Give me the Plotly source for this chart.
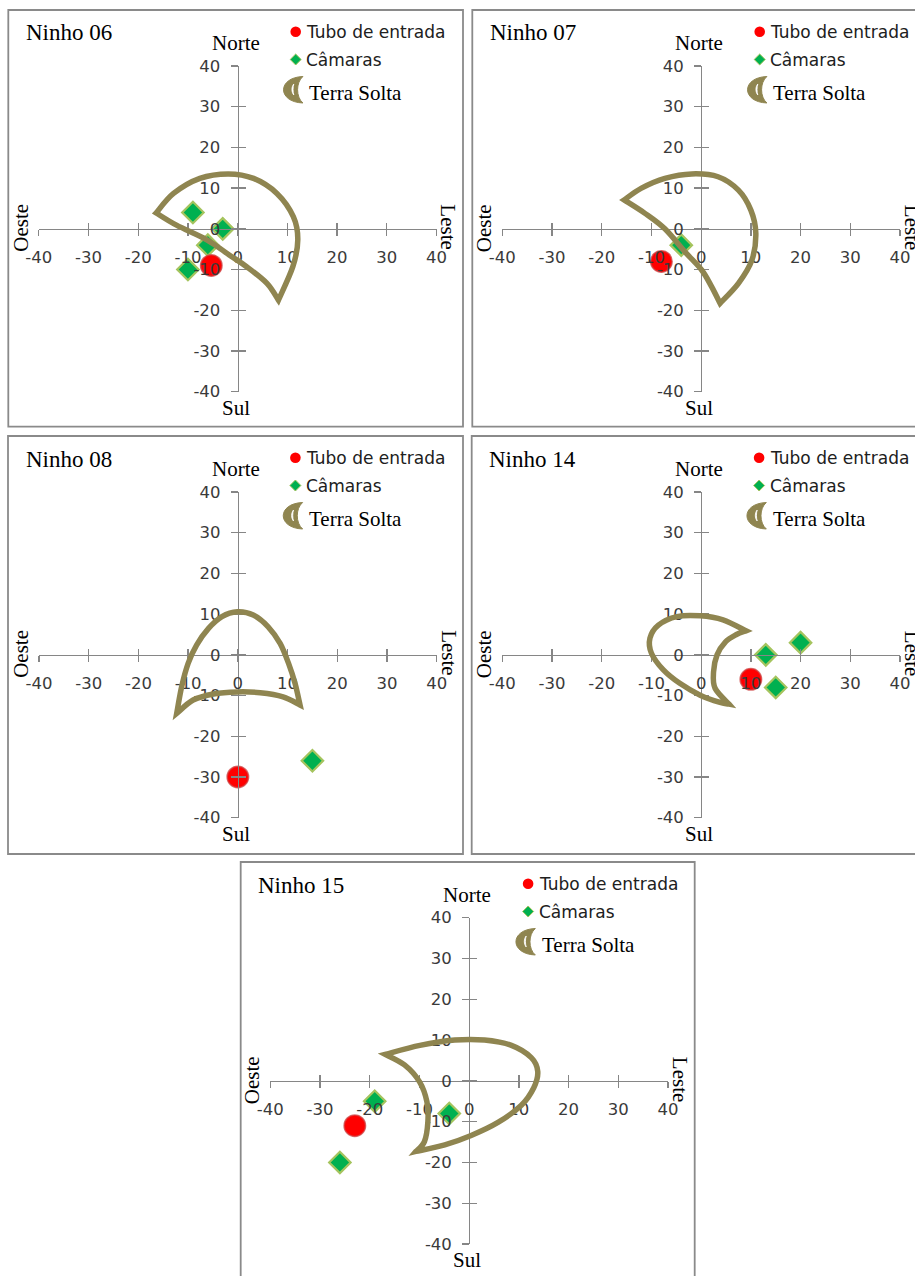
import plotly.graph_objects as go

W, H = 915, 1276

# ---------------- data ----------------
NESTS = ["Ninho 06", "Ninho 07", "Ninho 08", "Ninho 14", "Ninho 15"]

# Tubo de entrada (x: Oeste-Leste, y: Sul-Norte)
TUBE_X = [-5.3, -8, 0, 10, -23]
TUBE_Y = [-9, -8, -30, -6, -11]

# Câmaras
CAM_X = [[-9, -3, -6, -10], [-4], [15], [13, 15, 20], [-19, -4, -26]]
CAM_Y = [[4, 0, -4, -10], [-4], [-26], [0, -8, 3], [-5, -8, -20]]

# Terra Solta outline: outer arc (tip to tip) and inner arc (between the tips)
SOIL_OUTER_X = [
    [-16.4, -12.9, -7.6, -1.9, 3.2, 7.9, 11.2, 12.1, 11.1, 8.2],
    [-15.5, -12.0, -7.3, -1.9, 3.4, 7.5, 10.0, 11.0, 10.2, 7.5, 3.8],
    [-12.3, -11.3, -10.0, -8.3, -5.9, -3.2, -0.1, 3.1, 6.1, 8.5, 10.2, 11.5, 12.5],
    [9.0, 4.4, -0.2, -4.9, -8.6, -10.3, -10.0, -7.6, -4.3, -0.2, 3.8, 5.6],
    [-16.9, -9.9, -2.9, 3.1, 8.5, 12.5, 13.8, 13.0, 10.5, 5.8, 0.4, -4.9, -10.7],
]
SOIL_OUTER_Y = [
    [3.9, 8.7, 12.4, 13.5, 12.4, 8.7, 3.0, -2.7, -9.3, -17.5],
    [7.1, 10.0, 12.4, 13.5, 12.8, 9.5, 4.6, -1.1, -7.7, -13.4, -18.3],
    [-14.4, -7.8, -2.1, 2.4, 6.5, 9.4, 10.6, 9.8, 6.9, 2.8, -2.1, -7.0, -12.3],
    [5.9, 8.6, 9.6, 9.4, 7.3, 4.1, 0.4, -3.7, -7.0, -9.9, -11.7, -12.1],
    [6.5, 8.7, 10.0, 10.0, 8.7, 5.7, 2.3, -1.7, -6.0, -10.2, -13.4, -15.7, -17.3],
]
SOIL_INNER_X = [
    [5.9, 1.8, -1.7, -6.2, -12.3],
    [2.1, 0.1, -3.3, -7.3, -11.3],
    [9.1, 4.5, -0.1, -4.9, -9.0],
    [2.8, 2.5, 3.2, 4.9, 7.1],
    [-9.0, -8.3, -8.5, -10.0, -13.0],
]
SOIL_INNER_Y = [
    [-13.4, -9.3, -6.4, -2.7, 0.9],
    [-14.2, -10.1, -5.6, 0.0, 3.8],
    [-10.3, -9.3, -9.1, -9.6, -11.1],
    [-8.2, -4.1, 0.0, 3.2, 5.0],
    [-14.9, -10.0, -5.1, -0.2, 3.9],
]

TICK_VALS = [-40, -30, -20, -10, 0, 10, 20, 30, 40]
TICK_TEXT = ["-40", "-30", "-20", "-10", "0", "10", "20", "30", "40"]

LEGEND_LABELS = ["Tubo de entrada", "Câmaras", "Terra Solta"]
DIR_LABELS = ["Norte", "Sul", "Oeste", "Leste"]

# ---------------- layout geometry (pixels) ----------------
PANEL_BOX = [(8.3, 10, 463, 426.7), (472.3, 10, 930, 426.7), (8, 436, 463, 854),
             (471.7, 436, 930, 854), (240.7, 862, 694.7, 1290)]
AX_X = [(38.8, 436.5), (502.3, 900), (39, 436.7), (502.3, 900), (270.3, 668)]
AX_Y = [(66, 391.7), (66, 391.7), (492, 817.7), (492, 817.7), (917.7, 1244)]

AX_COL = "#868686"
TICK_FONT = dict(family="DejaVu Sans", size=16.5, color="#3A3A3A")
SERIF = "Liberation Serif"
SOIL_COL = "#8F8550"
RED = "#FF0000"
GREEN = "#00B050"


def PX(x):
    return x / W


def PY(y):
    return 1 - y / H


def spline_cmds(pts):
    """Catmull-Rom spline through pts -> list of cubic bezier segments."""
    n = len(pts)
    segs = []
    for i in range(n - 1):
        p0 = pts[max(i - 1, 0)]
        p1 = pts[i]
        p2 = pts[i + 1]
        p3 = pts[min(i + 2, n - 1)]
        c1 = (p1[0] + (p2[0] - p0[0]) / 6, p1[1] + (p2[1] - p0[1]) / 6)
        c2 = (p2[0] - (p3[0] - p1[0]) / 6, p2[1] - (p3[1] - p1[1]) / 6)
        segs.append("C%.3f,%.3f %.3f,%.3f %.3f,%.3f" % (c1[0], c1[1], c2[0], c2[1], p2[0], p2[1]))
    return segs


def ppath(cmds):
    """Build a paper-coordinate path from pixel commands [(cmd, [(x,y),...]), ...]."""
    out = []
    for c, pts in cmds:
        out.append(c + " ".join("%.5f,%.5f" % (PX(x), PY(y)) for x, y in pts))
    return " ".join(out) + " Z"


fig = go.Figure()
layout = dict(width=W, height=H, autosize=False,
              margin=dict(l=0, r=0, t=0, b=0, pad=0, autoexpand=False),
              paper_bgcolor="white", plot_bgcolor="rgba(0,0,0,0)", showlegend=False)
shapes = []
annotations = []

for i in range(5):
    k = i + 1
    ko = i + 6
    xa = "x" if k == 1 else "x%d" % k
    ya = "y" if k == 1 else "y%d" % k
    xo = "x%d" % ko
    yo = "y%d" % ko
    xl, xr = AX_X[i]
    yt, yb = AX_Y[i]
    x0 = (xl + xr) / 2
    y0 = (yt + yb) / 2
    bl, bt, br, bb = PANEL_BOX[i]

    common = dict(range=[-40, 40], tickmode="array", tickvals=TICK_VALS, showgrid=False,
                  zeroline=False, fixedrange=True, tickcolor=AX_COL, tickwidth=1.3,
                  automargin=False)
    layout["xaxis" if k == 1 else "xaxis%d" % k] = dict(
        common, domain=[PX(xl), PX(xr)], anchor="free", position=PY(y0),
        showline=True, linecolor=AX_COL, linewidth=1.3, ticks="outside", ticklen=6,
        ticktext=TICK_TEXT, tickfont=TICK_FONT, ticklabelstandoff=7)
    layout["yaxis" if k == 1 else "yaxis%d" % k] = dict(
        common, domain=[PY(yb), PY(yt)], anchor="free", position=PX(x0), side="left",
        showline=True, linecolor=AX_COL, linewidth=1.3, ticks="outside", ticklen=7,
        ticktext=TICK_TEXT, tickfont=TICK_FONT, ticklabelstandoff=7)
    layout["xaxis%d" % ko] = dict(
        common, overlaying=xa, anchor="free", position=PY(y0), showline=False,
        ticks="inside", ticklen=6, showticklabels=False)
    layout["yaxis%d" % ko] = dict(
        common, overlaying=ya, anchor="free", position=PX(x0), side="left", showline=False,
        ticks="inside", ticklen=7, showticklabels=False)

    # invisible trace to register overlay axes
    fig.add_trace(go.Scatter(x=[0], y=[0], xaxis=xo, yaxis=yo, mode="markers",
                             marker=dict(size=1, opacity=0), hoverinfo="skip"))

    # câmaras
    fig.add_trace(go.Scatter(
        x=CAM_X[i], y=CAM_Y[i], xaxis=xa, yaxis=ya, mode="markers", name=LEGEND_LABELS[1],
        marker=dict(symbol="diamond", size=16.5, color=GREEN,
                    line=dict(color="#A5C45E", width=2.2))))
    # tubo de entrada
    fig.add_trace(go.Scatter(
        x=[TUBE_X[i]], y=[TUBE_Y[i]], xaxis=xa, yaxis=ya, mode="markers", name=LEGEND_LABELS[0],
        marker=dict(symbol="circle", size=21.5, color=RED,
                    line=dict(color="rgba(205,70,70,0.75)", width=1.5))))

    # terra solta crescent
    outer = list(zip(SOIL_OUTER_X[i], SOIL_OUTER_Y[i]))
    inner = [outer[-1]] + list(zip(SOIL_INNER_X[i], SOIL_INNER_Y[i])) + [outer[0]]
    path = "M%.3f,%.3f " % outer[0] + " ".join(spline_cmds(outer)) + " " + \
        " ".join(spline_cmds(inner)) + " Z"
    shapes.append(dict(type="path", xref=xa, yref=ya, path=path, layer="above",
                       line=dict(color=SOIL_COL, width=5.5), fillcolor="rgba(0,0,0,0)"))

    # panel border
    shapes.append(dict(type="rect", xref="paper", yref="paper", x0=PX(bl), x1=PX(br),
                       y0=PY(bb), y1=PY(bt), line=dict(color="#8A8A8A", width=1.8),
                       layer="below"))

    # title
    annotations.append(dict(text=NESTS[i], xref="paper", yref="paper", x=PX(bl + 15.5),
                            y=PY(bt + 23), xanchor="left", yanchor="middle", showarrow=False,
                            font=dict(family=SERIF, size=23, color="black")))
    # direction labels
    annotations.append(dict(text=DIR_LABELS[0], xref="paper", yref="paper", x=PX(x0 - 2),
                            y=PY(yt - 23), xanchor="center", yanchor="middle", showarrow=False,
                            font=dict(family=SERIF, size=21, color="black")))
    annotations.append(dict(text=DIR_LABELS[1], xref="paper", yref="paper", x=PX(x0 - 2),
                            y=PY(yb + 16), xanchor="center", yanchor="middle", showarrow=False,
                            font=dict(family=SERIF, size=21, color="black")))
    annotations.append(dict(text=DIR_LABELS[2], xref="paper", yref="paper", x=PX(xl - 18),
                            y=PY(y0 - 1), xanchor="center", yanchor="middle", showarrow=False,
                            textangle=-90, font=dict(family=SERIF, size=21, color="black")))
    annotations.append(dict(text=DIR_LABELS[3], xref="paper", yref="paper", x=PX(xr + 12),
                            y=PY(y0 - 2), xanchor="center", yanchor="middle", showarrow=False,
                            textangle=90, font=dict(family=SERIF, size=21, color="black")))

    # legend
    lx = bl + 287.4
    shapes.append(dict(type="circle", xref="paper", yref="paper",
                       x0=PX(lx - 5.3), x1=PX(lx + 5.3), y0=PY(bt + 21.7 + 5.3),
                       y1=PY(bt + 21.7 - 5.3), fillcolor=RED, line=dict(width=0), layer="above"))
    cy = bt + 49.5
    shapes.append(dict(type="path", xref="paper", yref="paper",
                       path=ppath([("M", [(lx, cy - 5.5)]), ("L", [(lx + 5.5, cy)]),
                                   ("L", [(lx, cy + 5.5)]), ("L", [(lx - 5.5, cy)])]),
                       fillcolor=GREEN, line=dict(color="#A5C45E", width=1), layer="above"))
    # crescent icon (filled moon with a thin light sliver)
    ax0, ax1 = bl + 274.8, bl + 294.6
    ay0, ay1 = bt + 66.5, bt + 93
    am = bl + 289.5
    icon = ppath([("M", [(ax1, ay0)]),
                  ("C", [(ax0 - 6, ay0 + 1), (ax0 - 6, ay1 - 1), (ax1, ay1)]),
                  ("C", [(am - 2, ay1 - 6), (am - 2, ay0 + 6), (ax1, ay0)])])
    shapes.append(dict(type="path", xref="paper", yref="paper", path=icon,
                       fillcolor=SOIL_COL, line=dict(color=SOIL_COL, width=1),
                       layer="above"))
    sl = bl + 284
    sliver = ppath([("M", [(sl + 1.5, bt + 74)]),
                    ("C", [(sl - 1, bt + 77), (sl - 1, bt + 82), (sl + 1.5, bt + 85)]),
                    ("C", [(sl + 0.5, bt + 82), (sl + 0.5, bt + 77), (sl + 1.5, bt + 74)])])
    shapes.append(dict(type="path", xref="paper", yref="paper", path=sliver,
                       fillcolor="white", line=dict(color="white", width=0.8),
                       layer="above"))
    annotations.append(dict(text=LEGEND_LABELS[0], xref="paper", yref="paper", x=PX(bl + 296),
                            y=PY(bt + 22), xanchor="left", yanchor="middle", showarrow=False,
                            font=dict(family="DejaVu Sans", size=17, color="#202020")))
    annotations.append(dict(text=LEGEND_LABELS[1], xref="paper", yref="paper", x=PX(bl + 296),
                            y=PY(bt + 50), xanchor="left", yanchor="middle", showarrow=False,
                            font=dict(family="DejaVu Sans", size=17, color="#202020")))
    annotations.append(dict(text=LEGEND_LABELS[2], xref="paper", yref="paper", x=PX(bl + 299),
                            y=PY(bt + 83), xanchor="left", yanchor="middle", showarrow=False,
                            font=dict(family=SERIF, size=21, color="black")))

layout["shapes"] = shapes
layout["annotations"] = annotations
fig.update_layout(**layout)
fig.write_html("out.html", config={"displayModeBar": False, "staticPlot": True},
               post_script="document.body.style.margin='0';document.body.style.overflow='hidden';")
